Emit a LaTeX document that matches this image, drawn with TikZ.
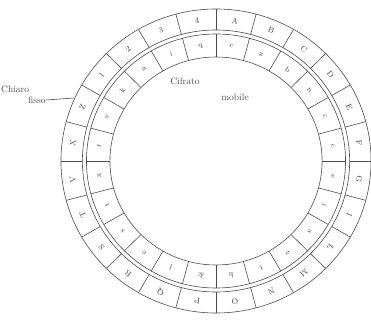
\documentclass[tikz,border=0pt]{standalone}
\begin{document}
\begin{tikzpicture}[x=1pt,y=1pt,
  ring/.style={line width=0.6pt, draw=black!70},
  outl/.style={font=\fontsize{8}{8}\selectfont, text=black!75, inner sep=0pt},
  innl/.style={font=\fontsize{7.5}{8}\selectfont, text=black!75, inner sep=0pt},
  lab/.style={font=\fontsize{9.5}{11}\selectfont, text=black!70, inner sep=0pt}]
\useasboundingbox (0,0) rectangle (371,322);
\begin{scope}[shift={(216,161)}, xscale=1.02]
  \draw[ring] (0,0) circle[radius=152];
  \draw[ring] (0,0) circle[radius=131];
  \draw[ring] (0,0) circle[radius=127];
  \draw[ring] (0,0) circle[radius=104];
  \foreach \k in {0,...,23} {
    \draw[ring] (\k*15:131) -- (\k*15:152);
    \draw[ring] (\k*15:104) -- (\k*15:127);
  }
  \foreach \t [count=\n] in {A,B,C,D,E,F,G,I,L,M,N,O,P,Q,R,S,T,V,X,Z,1,2,3,4} {
    \pgfmathsetmacro\a{97.5-15*\n}
    \node[outl, rotate=\a-90] (o\n) at (\a:141.5) {\t};
  }
  \foreach \t [count=\n] in {c,z,b,n,c,c,e,i,s,o,t,h,{\&},l,e,s,t,x,r,v,k,a,i,q} {
    \pgfmathsetmacro\a{97.5-15*\n}
    \node[innl, rotate=\a-90] (i\n) at (\a:115.5) {\t};
  }
\end{scope}
\node[lab, anchor=west] (chiaro) at (1,233) {Chiaro};
\node[lab, anchor=west] (fisso) at (28,222) {fisso};
\node[lab] (cifrato) at (185,241) {Cifrato};
\node[lab] (mobile) at (235,225) {mobile};
\coordinate (ldr) at (74,224);
\draw[ring] (fisso.east) -- (ldr);
\end{tikzpicture}
\end{document}
